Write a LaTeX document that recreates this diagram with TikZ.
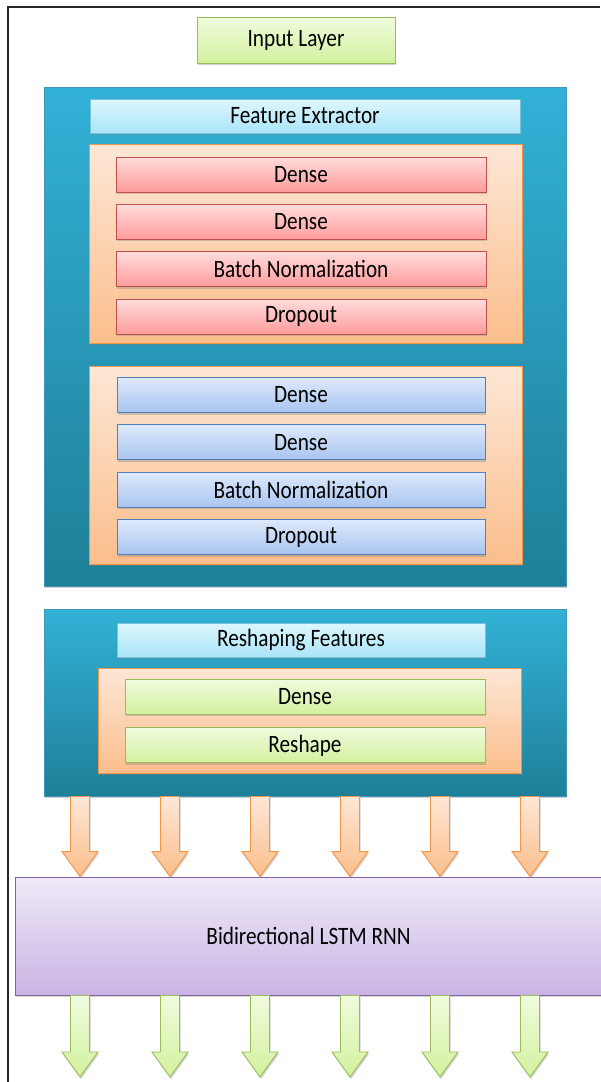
\documentclass[tikz,border=0pt]{standalone}
\usepackage{fontspec}
\setmainfont{Carlito}[FakeStretch=0.85]
\usetikzlibrary{positioning, shadows, calc}

\definecolor{tealtop}{RGB}{50,177,215}
\definecolor{tealbot}{RGB}{31,127,152}
\definecolor{tealline}{RGB}{60,150,180}
\definecolor{skytop}{RGB}{222,246,253}
\definecolor{skybot}{RGB}{170,229,249}
\definecolor{skyline}{RGB}{120,195,220}
\definecolor{peachtop}{RGB}{253,231,214}
\definecolor{peachbot}{RGB}{251,190,140}
\definecolor{peachline}{RGB}{245,150,70}
\definecolor{redtop}{RGB}{255,220,220}
\definecolor{redbot}{RGB}{255,155,155}
\definecolor{redline}{RGB}{192,80,77}
\definecolor{bluetop}{RGB}{222,233,251}
\definecolor{bluebot}{RGB}{168,196,240}
\definecolor{blueline}{RGB}{79,129,189}
\definecolor{limetop}{RGB}{240,251,222}
\definecolor{limebot}{RGB}{210,241,158}
\definecolor{limeline}{RGB}{155,187,89}
\definecolor{lilactop}{RGB}{240,234,249}
\definecolor{lilacbot}{RGB}{201,180,228}
\definecolor{lilacline}{RGB}{128,100,162}

\tikzset{
  shade/.style={drop shadow={shadow xshift=1pt, shadow yshift=-2pt, opacity=0.35}},
  box/.style={shade, line width=0.9pt, inner sep=0pt, text=black,
    font=\fontsize{25}{28}\selectfont},
  tealbox/.style={box, draw=tealline, top color=tealtop, bottom color=tealbot},
  headbar/.style={box, draw=skyline, top color=skytop, bottom color=skybot, minimum height=34pt},
  group/.style={box, draw=peachline, top color=peachtop, bottom color=peachbot},
  redbar/.style={box, draw=redline, top color=redtop, bottom color=redbot, minimum width=370pt, minimum height=35pt},
  bluebar/.style={box, draw=blueline, top color=bluetop, bottom color=bluebot, minimum width=368pt, minimum height=35pt},
  limebar/.style={box, draw=limeline, top color=limetop, bottom color=limebot, minimum height=35pt},
  rnnbox/.style={box, draw=lilacline, top color=lilactop, bottom color=lilacbot},
  inarrow/.style={shade, draw=peachline, line width=0.9pt, top color=peachtop, bottom color=peachbot},
  outarrow/.style={shade, draw=limeline, line width=0.9pt, top color=limetop, bottom color=limebot}
}

\begin{document}
\begin{tikzpicture}[x=1pt, y=-1pt]
\useasboundingbox (0,0) rectangle (600,1082);

% frame
\draw[line width=1.6pt, black!85] (8,1082) -- (8,7) -- (600,7);

\node[limebar, minimum width=198pt, minimum height=46pt] (input) at (296,40) {Input Layer};

% feature extractor
\node[tealbox, minimum width=522pt, minimum height=499pt] (fe) at (305,336.5) {};
\node[headbar, minimum width=430pt] (fehead) at (305,116) {Feature Extractor};

\node[group, minimum width=433pt, minimum height=199pt] (g1) at (305.5,243.5) {};
\node[redbar] (r1) at (301,174.5) {Dense};
\node[redbar, below=11.5pt of r1] (r2) {Dense};
\node[redbar, below=11.5pt of r2] (r3) {Batch Normalization};
\node[redbar, below=11.5pt of r3] (r4) {Dropout};

\node[group, minimum width=433pt, minimum height=198pt] (g2) at (305.5,465) {};
\node[bluebar] (b1) at (301,395) {Dense};
\node[bluebar, below=11.5pt of b1] (b2) {Dense};
\node[bluebar, below=11.5pt of b2] (b3) {Batch Normalization};
\node[bluebar, below=11.5pt of b3] (b4) {Dropout};

% reshaping
\node[tealbox, minimum width=522pt, minimum height=187pt] (rs) at (305,702.5) {};
\node[headbar, minimum width=368pt] (rshead) at (301,640) {Reshaping Features};
\node[group, minimum width=423pt, minimum height=105pt] (g3) at (309.5,720.5) {};
\node[limebar, minimum width=360pt] (l1) at (305,696.5) {Dense};
\node[limebar, minimum width=360pt, below=13pt of l1] (l2) {Reshape};

% recurrent part
\node[rnnbox, minimum width=587pt, minimum height=118pt] (rnn) at (308.5,936) {Bidirectional LSTM RNN};
\coordinate (out) at (0,1077);

\foreach \ax in {80,170,260,350,440,530}{
  \coordinate (ax) at (\ax,0);
  \path[inarrow] (rs.south -| ax) ++(-9.5,0) -- ++(19,0)
    -- ($(rnn.north -| ax)+(9.5,-25)$) -- ++(8.5,0) -- (rnn.north -| ax)
    -- ++(-18,-25) -- ++(8.5,0) -- cycle;
  \path[outarrow] (rnn.south -| ax) ++(-9.5,0) -- ++(19,0)
    -- ($(out -| ax)+(9.5,-25)$) -- ++(8.5,0) -- (out -| ax)
    -- ++(-18,-25) -- ++(8.5,0) -- cycle;
}
\end{tikzpicture}
\end{document}
